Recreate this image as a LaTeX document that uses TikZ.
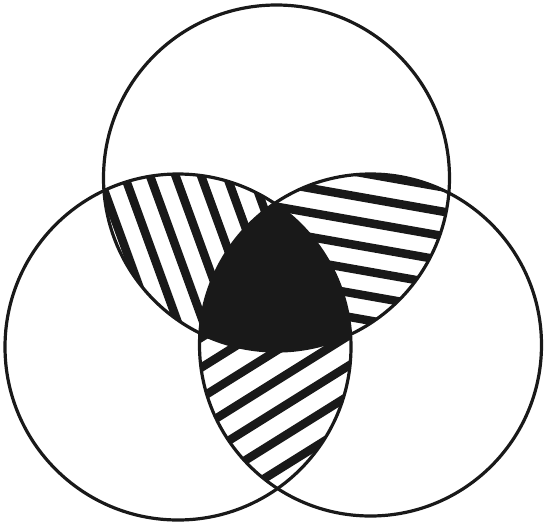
\documentclass[tikz,border=0pt]{standalone}
\begin{document}
\begin{tikzpicture}[x=1pt,y=-1pt,
  ring/.style={draw=black!90,line width=3.2pt},
  stripe/.style={line width=8.5pt,black!90}]
\useasboundingbox (0,0) rectangle (544,523);
\coordinate (T) at (276.5,178);
\coordinate (L) at (178,347);
\coordinate (R) at (370.5,345);
\def\rT{173}\def\rL{173}\def\rR{171}
% left lens (top & left): steep stripes
\begin{scope}
  \clip (T) circle (\rT);
  \clip (L) circle (\rL);
  \begin{scope}[shift={(126,180)},rotate=-70]
    \foreach \k in {-12,...,12} \draw[stripe] (-400,\k*24) -- (400,\k*24);
  \end{scope}
\end{scope}
% right lens (top & right): nearly horizontal stripes
\begin{scope}
  \clip (T) circle (\rT);
  \clip (R) circle (\rR);
  \begin{scope}[shift={(445,212)},rotate=-10]
    \foreach \k in {-12,...,12} \draw[stripe] (-400,\k*24) -- (400,\k*24);
  \end{scope}
\end{scope}
% bottom lens (left & right): rising stripes
\begin{scope}
  \clip (L) circle (\rL);
  \clip (R) circle (\rR);
  \begin{scope}[shift={(207,364)},rotate=32]
    \foreach \k in {-12,...,12} \draw[stripe] (-400,\k*25.5) -- (400,\k*25.5);
  \end{scope}
\end{scope}
% centre
\begin{scope}
  \clip (T) circle (\rT);
  \clip (L) circle (\rL);
  \fill[black!90] (R) circle (\rR);
\end{scope}
\draw[ring] (T) circle (\rT);
\draw[ring] (L) circle (\rL);
\draw[ring] (R) circle (\rR);
\end{tikzpicture}
\end{document}
